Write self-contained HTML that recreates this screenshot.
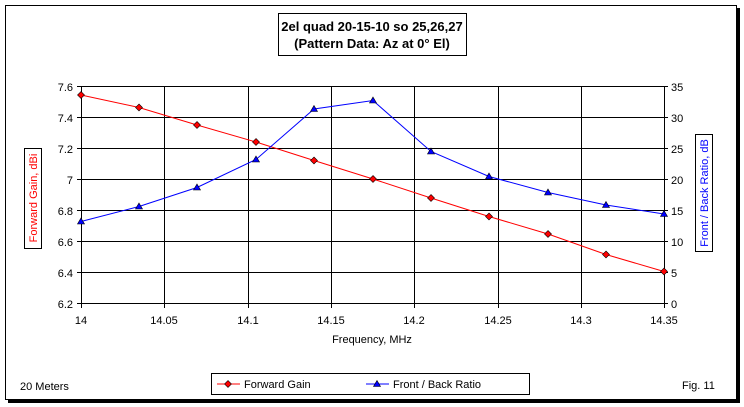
<!DOCTYPE html>
<html><head><style>body{margin:0;background:#fff}svg{display:block}text{font-family:"Liberation Sans",Arial,sans-serif}</style></head><body>
<svg width="744" height="407" xmlns="http://www.w3.org/2000/svg">
<rect x="0" y="0" width="744" height="407" fill="#fff"/>
<rect x="5.5" y="5.5" width="731" height="394" fill="#fff" stroke="#000" stroke-width="1"/>
<rect x="8" y="400" width="732" height="3" fill="#000"/>
<rect x="737" y="8" width="3" height="395" fill="#000"/>
<rect x="278.5" y="13.5" width="188" height="42" fill="#fff" stroke="#000"/>
<text x="372" y="31" font-size="13" font-weight="bold" text-anchor="middle">2el quad 20-15-10 so 25,26,27</text>
<text x="372" y="48" font-size="13" font-weight="bold" text-anchor="middle">(Pattern Data: Az at 0° El)</text>
<g stroke="#000" stroke-width="1">
<line x1="81" y1="86.5" x2="664" y2="86.5"/><line x1="81" y1="117.5" x2="664" y2="117.5"/><line x1="81" y1="148.5" x2="664" y2="148.5"/><line x1="81" y1="179.5" x2="664" y2="179.5"/><line x1="81" y1="210.5" x2="664" y2="210.5"/><line x1="81" y1="241.5" x2="664" y2="241.5"/><line x1="81" y1="272.5" x2="664" y2="272.5"/><line x1="81" y1="303.5" x2="664" y2="303.5"/>
<line x1="81.5" y1="86" x2="81.5" y2="308"/><line x1="164.5" y1="86" x2="164.5" y2="308"/><line x1="248.5" y1="86" x2="248.5" y2="308"/><line x1="331.5" y1="86" x2="331.5" y2="308"/><line x1="414.5" y1="86" x2="414.5" y2="308"/><line x1="498.5" y1="86" x2="498.5" y2="308"/><line x1="581.5" y1="86" x2="581.5" y2="308"/><line x1="664.5" y1="86" x2="664.5" y2="308"/>
<line x1="77" y1="86.5" x2="81" y2="86.5"/><line x1="77" y1="117.5" x2="81" y2="117.5"/><line x1="77" y1="148.5" x2="81" y2="148.5"/><line x1="77" y1="179.5" x2="81" y2="179.5"/><line x1="77" y1="210.5" x2="81" y2="210.5"/><line x1="77" y1="241.5" x2="81" y2="241.5"/><line x1="77" y1="272.5" x2="81" y2="272.5"/><line x1="77" y1="303.5" x2="81" y2="303.5"/>
<line x1="664" y1="86.5" x2="668" y2="86.5"/><line x1="664" y1="117.5" x2="668" y2="117.5"/><line x1="664" y1="148.5" x2="668" y2="148.5"/><line x1="664" y1="179.5" x2="668" y2="179.5"/><line x1="664" y1="210.5" x2="668" y2="210.5"/><line x1="664" y1="241.5" x2="668" y2="241.5"/><line x1="664" y1="272.5" x2="668" y2="272.5"/><line x1="664" y1="303.5" x2="668" y2="303.5"/>
</g>
<g font-size="11" text-anchor="end">
<text x="73" y="91">7.6</text><text x="73" y="122">7.4</text><text x="73" y="153">7.2</text><text x="73" y="184">7</text><text x="73" y="215">6.8</text><text x="73" y="246">6.6</text><text x="73" y="277">6.4</text><text x="73" y="308">6.2</text>
</g>
<g font-size="11" text-anchor="start">
<text x="671" y="91">35</text><text x="671" y="122">30</text><text x="671" y="153">25</text><text x="671" y="184">20</text><text x="671" y="215">15</text><text x="671" y="246">10</text><text x="671" y="277">5</text><text x="671" y="308">0</text>
</g>
<g font-size="11" text-anchor="middle">
<text x="81" y="324">14</text><text x="164" y="324">14.05</text><text x="248" y="324">14.1</text><text x="331" y="324">14.15</text><text x="414" y="324">14.2</text><text x="498" y="324">14.25</text><text x="581" y="324">14.3</text><text x="664" y="324">14.35</text>
<text x="372" y="343">Frequency, MHz</text>
</g>
<rect x="24.5" y="148.5" width="17" height="100" fill="#fff" stroke="#000"/>
<text transform="translate(37,198) rotate(-90)" font-size="11" fill="#f00" text-anchor="middle">Forward Gain,  dBi</text>
<rect x="695.5" y="134.5" width="17" height="117" fill="#fff" stroke="#000"/>
<text transform="translate(708,193) rotate(-90)" font-size="11" fill="#00f" text-anchor="middle">Front / Back Ratio,  dB</text>
<polyline fill="none" stroke="#f00" points="81,95 139,107.5 197,125 256,142 314,160.5 373,179 431,198 489,216.5 548,234 606,254.5 664,271.5"/>
<g fill="#f00" stroke="#000" stroke-width="0.6">
<path d="M81,91.5l3.5,3.5l-3.5,3.5l-3.5,-3.5z"/><path d="M139,104l3.5,3.5l-3.5,3.5l-3.5,-3.5z"/><path d="M197,121.5l3.5,3.5l-3.5,3.5l-3.5,-3.5z"/><path d="M256,138.5l3.5,3.5l-3.5,3.5l-3.5,-3.5z"/><path d="M314,157l3.5,3.5l-3.5,3.5l-3.5,-3.5z"/><path d="M373,175.5l3.5,3.5l-3.5,3.5l-3.5,-3.5z"/><path d="M431,194.5l3.5,3.5l-3.5,3.5l-3.5,-3.5z"/><path d="M489,213l3.5,3.5l-3.5,3.5l-3.5,-3.5z"/><path d="M548,230.5l3.5,3.5l-3.5,3.5l-3.5,-3.5z"/><path d="M606,251l3.5,3.5l-3.5,3.5l-3.5,-3.5z"/><path d="M664,268l3.5,3.5l-3.5,3.5l-3.5,-3.5z"/>
</g>
<polyline fill="none" stroke="#00f" points="81,221.5 139,206.5 197,187.5 256,159.5 314,109 373,100.5 431,151.5 489,176.5 548,192.5 606,205 664,214"/>
<g fill="#00f" stroke="#000" stroke-width="0.6">
<path d="M81,218l3.5,6h-7z"/><path d="M139,203l3.5,6h-7z"/><path d="M197,184l3.5,6h-7z"/><path d="M256,156l3.5,6h-7z"/><path d="M314,105.5l3.5,6h-7z"/><path d="M373,97l3.5,6h-7z"/><path d="M431,148l3.5,6h-7z"/><path d="M489,173l3.5,6h-7z"/><path d="M548,189l3.5,6h-7z"/><path d="M606,201.5l3.5,6h-7z"/><path d="M664,210.5l3.5,6h-7z"/>
</g>
<rect x="211.5" y="373.5" width="318" height="21" fill="#fff" stroke="#000"/>
<line x1="217" y1="384" x2="240" y2="384" stroke="#f00"/>
<path d="M228,380.5l3.5,3.5l-3.5,3.5l-3.5,-3.5z" fill="#f00" stroke="#000" stroke-width="0.6"/>
<text x="244" y="388" font-size="11">Forward Gain</text>
<line x1="366" y1="384" x2="389" y2="384" stroke="#00f"/>
<path d="M377,380.5l3.5,6h-7z" fill="#00f" stroke="#000" stroke-width="0.6"/>
<text x="393" y="388" font-size="11">Front / Back Ratio</text>
<text x="20" y="390" font-size="11">20 Meters</text>
<text x="682" y="389" font-size="11">Fig. 11</text>
</svg>
</body></html>
